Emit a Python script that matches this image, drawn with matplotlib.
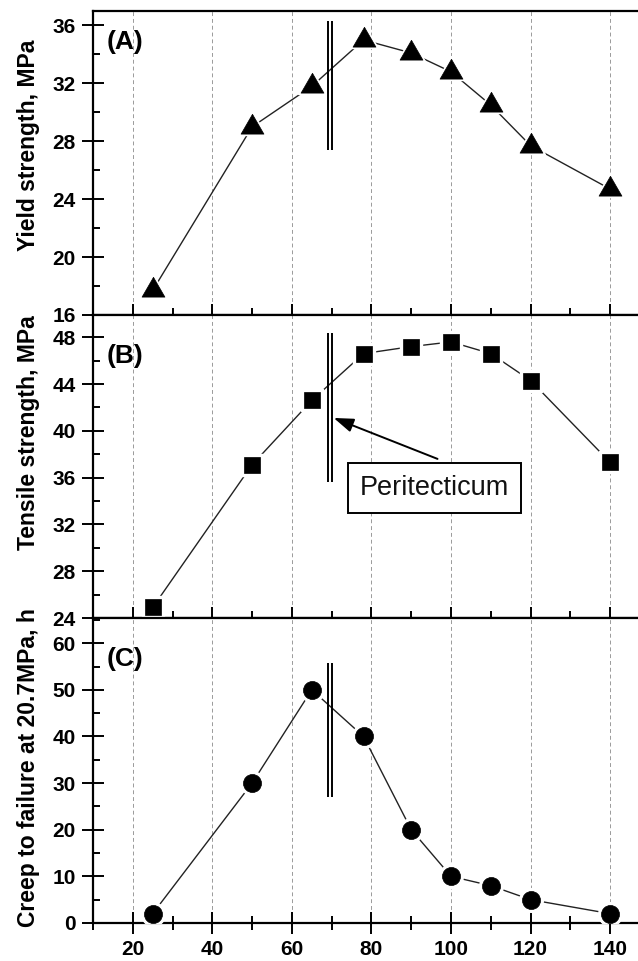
import matplotlib
matplotlib.use("Agg")
import matplotlib.pyplot as plt
from matplotlib.ticker import MultipleLocator
from matplotlib.path import Path

plt.rcParams['font.family'] = ['Liberation Sans', 'DejaVu Sans']

# Composition (x axis) shared by all three panels
temps = [25, 50, 65, 78, 90, 100, 110, 120, 140]
yield_strength = [17.7, 29.0, 31.8, 35.0, 34.1, 32.8, 30.5, 27.7, 24.7]
tensile_strength = [24.9, 37.1, 42.6, 46.6, 47.2, 47.6, 46.6, 44.3, 37.3]
creep_hours = [2, 30, 50, 40, 20, 10, 8, 5, 2]

xticks = [20, 40, 60, 80, 100, 120, 140]
peritectic_x = 69.6

panel_names = ["(A)", "(B)", "(C)"]
ylabels = ["Yield strength, MPa", "Tensile strength, MPa",
           "Creep to failure at 20.7MPa, h"]

W, H = 638, 961
fig = plt.figure(figsize=(W / 100, H / 100), dpi=100)

left = 93 / W
width = 549 / W
rows = [(11, 315), (315, 618), (618, 923)]
axes = []
for top, bot in rows:
    axes.append(fig.add_axes([left, 1 - bot / H, width, (bot - top) / H]))

tri = Path([(-1, -0.577), (1, -0.577), (0, 1.155), (-1, -0.577)],
           [Path.MOVETO, Path.LINETO, Path.LINETO, Path.CLOSEPOLY])

series = [yield_strength, tensile_strength, creep_hours]
markers = [(tri, 19), ('s', 12.2), ('o', 13)]
ylims = [(16, 37), (24, 49.9), (0, 65.4)]
yminor = [2, 2, 5]
yticks_list = [list(range(16, 37, 4)), list(range(24, 49, 4)), list(range(0, 61, 10))]
perit_spans = [(27.4, 36.3), (35.6, 48.4), (27.0, 55.7)]
label_pos = [(0.058, 0.898), (0.058, 0.865), (0.058, 0.866)]
ylabel_y = [0.559, 0.611, 0.508]

for i, ax in enumerate(axes):
    vals = series[i]
    m, ms = markers[i]
    ax.plot(temps, vals, color='#222222', lw=1.0, zorder=3)
    ax.plot(temps, vals, ls='none', marker=m, ms=ms + 4, color='white',
            mec='white', zorder=4)
    ax.plot(temps, vals, ls='none', marker=m, ms=ms, color='black',
            mec='black', mew=0.5, zorder=5)

    # double line marking the peritectic composition
    y0, y1 = perit_spans[i]
    for dx in (-0.6, 0.6):
        ax.plot([peritectic_x + dx] * 2, [y0, y1], color='black', lw=1.4,
                zorder=6, solid_capstyle='butt')

    ax.set_xlim(10, 148)
    ax.set_ylim(*ylims[i])
    ax.set_xticks(xticks)
    ax.xaxis.set_minor_locator(MultipleLocator(10))
    ax.set_yticks(yticks_list[i])
    ax.yaxis.set_minor_locator(MultipleLocator(yminor[i]))

    ax.grid(axis='x', which='major', ls=(0, (4, 3)), color='#9a9a9a', lw=0.7)
    ax.set_axisbelow(True)

    for sp in ax.spines.values():
        sp.set_linewidth(1.6)

    ax.tick_params(axis='both', which='major', direction='inout', length=16.5,
                   width=1.4, labelsize=15, pad=4)
    ax.tick_params(axis='x', which='minor', direction='inout', length=10,
                   width=1.4)
    ax.tick_params(axis='y', which='minor', direction='in', length=5,
                   width=1.4)
    ax.tick_params(top=False, right=False, which='both')
    for lab in ax.get_xticklabels() + ax.get_yticklabels():
        lab.set_fontweight('bold')
    if i < 2:
        ax.tick_params(axis='x', labelbottom=False)

    ax.text(*label_pos[i], panel_names[i], transform=ax.transAxes,
            fontsize=19, fontweight='bold', ha='center', va='center', zorder=7)

    ax.set_ylabel(ylabels[i], fontsize=16.5, fontweight='bold', va='center')
    ax.yaxis.set_label_coords(-0.118, ylabel_y[i])

# Peritecticum callout in the tensile-strength panel
axB = axes[1]
axB.text(95.8, 35.1, "Peritecticum", fontsize=19.5, ha='center', va='center',
         zorder=8, color='#111111',
         bbox=dict(boxstyle='square,pad=0.45', fc='white', ec='black', lw=1.4))
axB.annotate('', xy=(70.5, 41.1), xytext=(96.6, 37.6), zorder=8,
             arrowprops=dict(arrowstyle='-|>,head_length=1.2,head_width=0.42',
                             color='black', lw=1.4, shrinkA=0, shrinkB=0))

fig.savefig("out.png", dpi=100)
